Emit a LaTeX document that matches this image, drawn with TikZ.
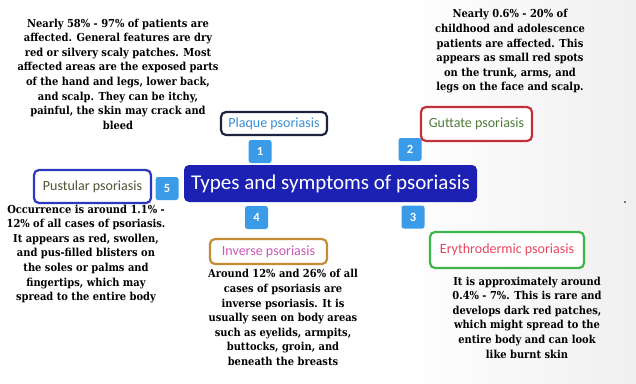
\documentclass[tikz,border=0pt]{standalone}
\usepackage{fontspec}
\setmainfont{DejaVu Serif Condensed}
\newfontfamily\labelfont{Carlito}
\usetikzlibrary{positioning}

\definecolor{titleblue}{HTML}{1C21B3}
\definecolor{badgeblue}{HTML}{3A9BE8}
\definecolor{plaqueline}{HTML}{1E2440}
\definecolor{plaquetext}{HTML}{3A8FD4}
\definecolor{guttateline}{HTML}{C22E3A}
\definecolor{guttatetext}{HTML}{4F7B3A}
\definecolor{pustline}{HTML}{2B37C0}
\definecolor{pusttext}{HTML}{4D5535}
\definecolor{invline}{HTML}{C48C34}
\definecolor{invtext}{HTML}{CC55B8}
\definecolor{erythline}{HTML}{3DB54A}
\definecolor{erythtext}{HTML}{E8465E}

\begin{document}
\begin{tikzpicture}[x=1pt, y=-1pt,
  desc/.style={align=center, inner sep=0pt, font=\fontsize{11}{14.6}\selectfont\bfseries},
  typebox/.style={draw, line width=2.2pt, rounded corners=5pt, fill=white, inner sep=0pt,
    font=\labelfont\fontsize{14}{16}\selectfont},
  badge/.style={fill=badgeblue, rounded corners=2.5pt, minimum size=23pt, inner sep=0pt,
    text=white, font=\labelfont\bfseries\fontsize{12.5}{12.5}\selectfont}]
  % Background
  \fill[white] (0,0) rectangle (636,383);
  \shade[left color=white, right color=black!6] (400,0) rectangle (636,383);
  \useasboundingbox (0,0) rectangle (636,383);
  \fill (625,202) circle (0.8);

  % Title
  \node[fill=titleblue, rounded corners=5pt, minimum width=293pt, minimum height=37pt,
    text=white, font=\labelfont\fontsize{21}{23}\selectfont] (title) at (330.5,183.5)
    {Types and symptoms of psoriasis};

  % Number badges
  \foreach \n/\x/\y in {1/260/151.5, 2/410/149.5, 3/413/217, 4/256.5/217.5, 5/167/188.5} {
    \node[badge] (b\n) at (\x,\y) {\n};
  }

  % Type boxes
  \node[typebox, draw=plaqueline, text=plaquetext, minimum width=106pt, minimum height=23pt]
    (plaque) at (274,123.5) {Plaque psoriasis};
  \node[typebox, draw=guttateline, text=guttatetext, minimum width=111pt, minimum height=34pt]
    (guttate) at (476.5,124) {Guttate psoriasis};
  \node[typebox, draw=pustline, text=pusttext, minimum width=117pt, minimum height=33pt]
    (pustular) at (92.5,186.5) {Pustular psoriasis};
  \node[typebox, draw=invline, text=invtext, minimum width=117pt, minimum height=25pt]
    (inverse) at (268.5,251.5) {Inverse psoriasis};
  \node[typebox, draw=erythline, text=erythtext, minimum width=154pt, minimum height=36pt]
    (eryth) at (507,250) {Erythrodermic psoriasis};

  % Descriptions
  \node[desc] (plaquetxt) at (118,74) {Nearly 58\% - 97\% of patients are\\
    affected. General features are dry\\ red or silvery scaly patches. Most\\
    affected areas are the exposed parts\\ of the hand and legs, lower back,\\
    and scalp. They can be itchy,\\ painful, the skin may crack and\\ bleed};
  \node[desc] (guttatetxt) at (510,51.5) {Nearly 0.6\% - 20\% of\\
    childhood and adolescence\\ patients are affected. This\\
    appears as small red spots\\ on the trunk, arms, and\\ legs on the face and scalp.};
  \node[desc] (pustulartxt) at (86,254) {Occurrence is around 1.1\% -\\
    12\% of all cases of psoriasis.\\ It appears as red, swollen,\\
    and pus-filled blisters on\\ the soles or palms and\\ fingertips, which may\\
    spread to the entire body};
  \node[desc] (inversetxt) at (283,317.5) {Around 12\% and 26\% of all\\
    cases of psoriasis are\\ inverse psoriasis. It is\\ usually seen on body areas\\
    such as eyelids, armpits,\\ buttocks, groin, and\\ beneath the breasts};
  \node[desc] (erythtxt) at (527,317.5) {It is approximately around\\
    0.4\% - 7\%. This is rare and\\ develops dark red patches,\\
    which might spread to the\\ entire body and can look\\ like burnt skin};
\end{tikzpicture}
\end{document}
